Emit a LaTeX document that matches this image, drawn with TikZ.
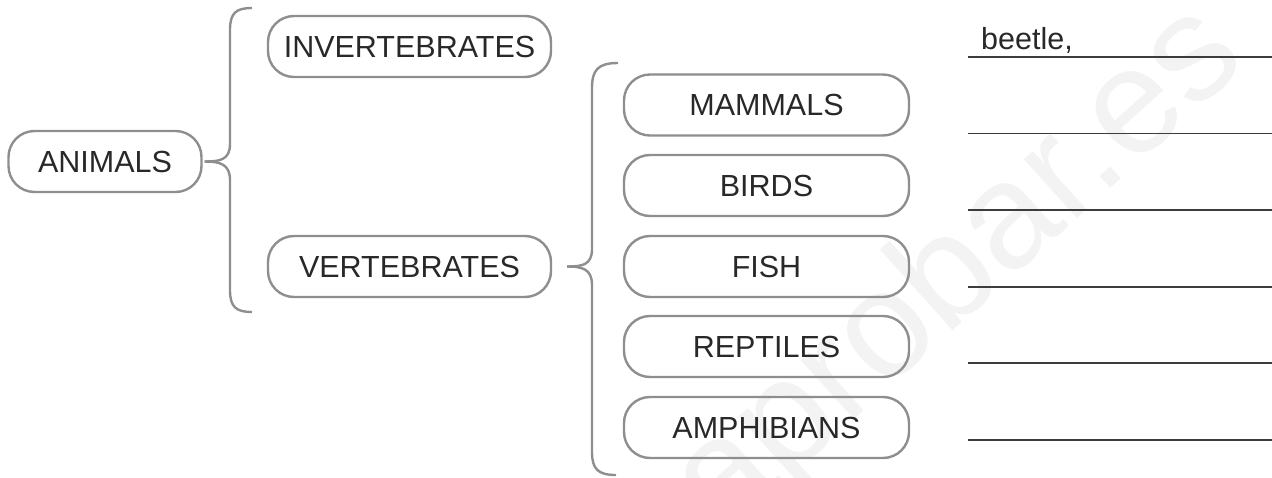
\documentclass[tikz,border=0pt]{standalone}
\usepackage{fontspec}
\setmainfont{Liberation Sans}
\usetikzlibrary{calc}
\definecolor{boxgray}{HTML}{8E8E8E}
\definecolor{txt}{HTML}{2A2728}
\definecolor{linegray}{HTML}{3C3C3C}
\definecolor{wm}{HTML}{F3F3F3}
\begin{document}
\begin{tikzpicture}[x=1pt,y=-1pt,
  box/.style={draw=boxgray, line width=2.4pt, rounded corners=26pt, minimum height=61pt, inner sep=0pt, text=txt, font=\fontsize{30.5}{36}\selectfont},
  brace/.style={draw=boxgray, line width=2.4pt},
  ansline/.style={draw=linegray, line width=1.4pt}]
\useasboundingbox (0,0) rectangle (1272,477);
% watermark
\node[rotate=42, text=wm, font=\fontsize{150}{150}\selectfont] (wm) at (960,272) {aprobar.es};
% boxes
\node[box, minimum width=193pt] (animals) at (105,161.5) {ANIMALS};
\node[box, minimum width=283pt] (invert) at (409.5,46.5) {INVERTEBRATES};
\node[box, minimum width=283pt] (vert) at (409.5,266.5) {VERTEBRATES};
\node[box, minimum width=285pt] (mammals) at (766.5,105) {MAMMALS};
\node[box, minimum width=285pt] (birds) at (766.5,185.5) {BIRDS};
\node[box, minimum width=285pt] (fish) at (766.5,266.5) {FISH};
\node[box, minimum width=285pt] (reptiles) at (766.5,346.5) {REPTILES};
\node[box, minimum width=285pt] (amphibians) at (766.5,427.5) {AMPHIBIANS};
% brace 1
\coordinate (t1) at ($(animals.east)+(2,0)$);
\coordinate (b1top) at (252,8);
\coordinate (b1bot) at (252,312);
\draw[brace] (t1) .. controls +(15,0) and +(0,16) .. (230,144) -- (230,30) .. controls (230,13) and (236,8) .. (b1top);
\draw[brace] (t1) .. controls +(15,0) and +(0,-16) .. (230,180) -- (230,290) .. controls (230,307) and (236,312) .. (b1bot);
% brace 2
\coordinate (t2) at ($(vert.east)+(15,0)$);
\coordinate (b2top) at (618,63);
\coordinate (b2bot) at (616,475);
\draw[brace] (t2) .. controls +(15,0) and +(0,16) .. (592,249) -- (592,88) .. controls (592,70) and (598,63) .. (b2top);
\draw[brace] (t2) .. controls +(15,0) and +(0,-16) .. (592,285) -- (592,452) .. controls (592,469) and (598,475) .. (b2bot);
% answer lines
\foreach \y/\n in {57/l1,133.5/l2,210/l3,287/l4,363/l5,440/l6}{
  \coordinate (\n a) at (968,\y);
  \coordinate (\n b) at (1272,\y);
  \draw[ansline] (\n a) -- (\n b);
}
\node[anchor=base west, inner sep=0pt, text=txt, font=\fontsize{30.5}{36}\selectfont] (beetle) at (981,49) {beetle,};
\end{tikzpicture}
\end{document}
